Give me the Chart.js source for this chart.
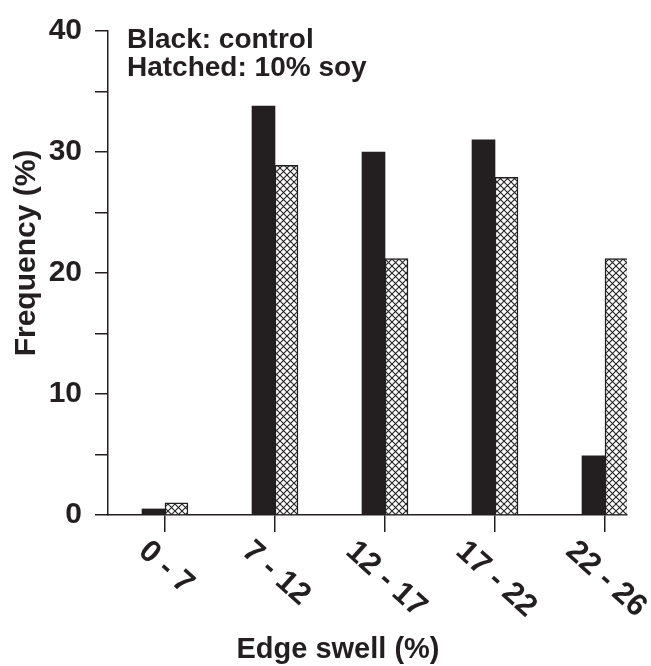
<!DOCTYPE html>
<html><head><meta charset="utf-8">
<script src="https://cdn.jsdelivr.net/npm/chart.js@4.4.1/dist/chart.umd.min.js"></script>
<style>html,body{margin:0;padding:0;background:#fff}#wrap{width:651px;height:666px}</style>
</head><body><div id="wrap"><canvas id="c" width="651" height="666"></canvas></div>
<script>
const categories = ['0 - 7', '7 - 12', '12 - 17', '17 - 22', '22 - 26'];
const controlValues = [0.5, 33.8, 30.0, 31.0, 4.9];
const soyValues = [1.0, 28.9, 21.2, 27.9, 21.2];
const yTickLabels = [0, 10, 20, 30, 40];
const yMinorTicks = [0, 5, 10, 15, 20, 25, 30, 35, 40];
const legendLines = ['Black: control', 'Hatched: 10% soy'];
const xTitle = 'Edge swell (%)';
const yTitle = 'Frequency (%)';

const INK = '#231f20';
const FONT = "'Liberation Sans', Arial, Helvetica, sans-serif";
Chart.defaults.font.family = FONT;

const canvas = document.getElementById('c');
const ctx = canvas.getContext('2d');

function makePattern() {
  const s = 7;
  const c = document.createElement('canvas');
  c.width = s; c.height = s;
  const g = c.getContext('2d');
  g.fillStyle = '#ffffff';
  g.fillRect(0, 0, s, s);
  g.strokeStyle = '#222222';
  g.lineWidth = 1.1;
  g.beginPath();
  g.moveTo(-1, -1); g.lineTo(s + 1, s + 1);
  g.moveTo(s + 1, -1); g.lineTo(-1, s + 1);
  g.stroke();
  return ctx.createPattern(c, 'repeat');
}

const textPlugin = {
  id: 'texts',
  afterDraw(chart) {
    const c = chart.ctx;
    const area = chart.chartArea;
    const xs = chart.scales.x;
    c.save();
    c.fillStyle = INK;
    c.font = 'bold 28px ' + FONT;
    c.textAlign = 'left';
    c.textBaseline = 'alphabetic';
    c.fillText(legendLines[0], area.left + 19, 48);
    c.fillText(legendLines[1], area.left + 19, 76);
    const ang = 42 * Math.PI / 180;
    c.font = 'bold 31px ' + FONT;
    categories.forEach((lab, i) => {
      const px = xs.getPixelForValue(i);
      const w = c.measureText(lab).width;
      const cy = 547 + (w / 2) * Math.sin(ang);
      c.save();
      c.translate(px + 1, cy);
      c.rotate(ang);
      c.textAlign = 'center';
      c.textBaseline = 'middle';
      c.fillText(lab, 0, 0);
      c.restore();
    });
    c.font = 'bold 29px ' + FONT;
    c.textAlign = 'center';
    c.textBaseline = 'alphabetic';
    c.fillText(xTitle, 338, 658);
    c.save();
    c.translate(35, 253);
    c.rotate(-Math.PI / 2);
    c.font = 'bold 30px ' + FONT;
    c.textAlign = 'center';
    c.textBaseline = 'alphabetic';
    c.fillText(yTitle, 0, 0);
    c.restore();
    c.restore();
  }
};

new Chart(ctx, {
  type: 'bar',
  data: {
    datasets: [
      {
        label: 'control',
        data: categories.map((c, i) => ({ x: i, y: controlValues[i] })),
        backgroundColor: INK,
        borderWidth: 0,
        barThickness: 23
      },
      {
        label: '10% soy',
        data: categories.map((c, i) => ({ x: i, y: soyValues[i] })),
        backgroundColor: makePattern(),
        borderColor: INK,
        borderWidth: 1.5,
        barThickness: 23
      }
    ]
  },
  options: {
    responsive: false,
    animation: false,
    devicePixelRatio: 1,
    layout: { padding: { left: 0, top: 24, right: 24, bottom: 0 } },
    plugins: { legend: { display: false }, tooltip: { enabled: false } },
    scales: {
      x: {
        type: 'linear',
        min: -0.518,
        max: 4.2,
        offset: false,
        afterBuildTicks: s => { s.ticks = categories.map((c, i) => ({ value: i })); },
        afterFit: s => { s.height = 151; },
        grid: { offset: false, drawOnChartArea: false, drawTicks: true, tickLength: 17, color: INK, lineWidth: 1.5 },
        border: { display: true, color: INK, width: 1.5 },
        ticks: { display: false }
      },
      y: {
        min: 0,
        max: 40,
        afterBuildTicks: s => { s.ticks = yMinorTicks.map(v => ({ value: v })); },
        afterFit: s => { s.width = 108; },
        grid: { offset: false, drawOnChartArea: false, drawTicks: true, tickLength: 13, color: INK, lineWidth: 1.5 },
        border: { display: true, color: INK, width: 1.5 },
        ticks: {
          padding: 13,
          color: INK,
          font: { family: FONT, size: 30, weight: 'bold' },
          callback: v => (yTickLabels.includes(v) ? String(v) : '')
        }
      }
    }
  },
  plugins: [textPlugin]
});
</script>
</body></html>
